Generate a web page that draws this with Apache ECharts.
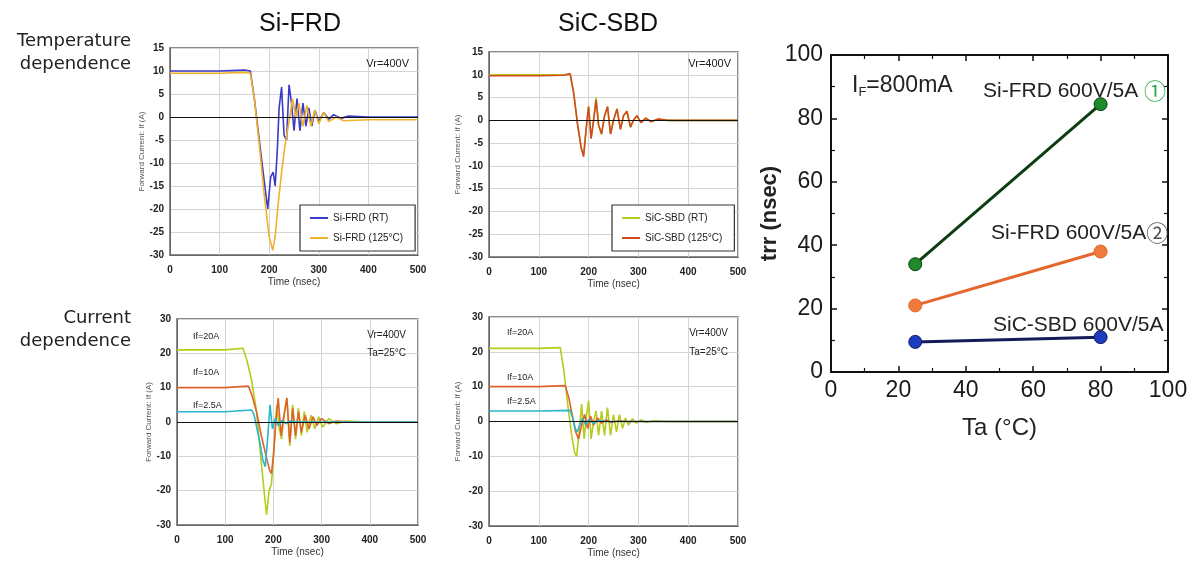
<!DOCTYPE html>
<html><head><meta charset="utf-8">
<script src="https://cdn.jsdelivr.net/npm/echarts@6/dist/echarts.min.js"></script>
<style>html,body{margin:0;padding:0;background:#fff}#c{width:1194px;height:571px}</style>
</head><body><div id="c"></div>
<script>
// ---- Panel 1: Si-FRD temperature dependence ----
const t_frdRT = [0, 50, 100, 150, 162, 170, 180, 190, 197, 203, 208, 212, 216, 220, 225, 230, 235, 240, 245, 250, 256, 262, 268, 274, 280, 286, 292, 300, 310, 320, 330, 345, 360, 400, 450, 500];
const v_frdRT = [10, 10, 10, 10.2, 10, 4, -5, -14, -20, -13, -12, -15, -8, 2, 6.5, -4, -5, 7, 3, -3, 4, -3, 3, -2, 2, -2, 1.5, -1, 1, -0.5, 0.5, -0.3, 0.2, 0, 0, 0];
const t_frdHT = [0, 50, 100, 150, 162, 170, 180, 190, 200, 207, 212, 218, 225, 232, 240, 247, 254, 260, 268, 276, 284, 292, 300, 310, 320, 335, 350, 400, 450, 500];
const v_frdHT = [9.5, 9.5, 9.5, 9.7, 9.5, 4, -6, -17, -26, -29, -26, -19, -12, -6, -1, 4, 0, 3, -2, 2.5, -2, 1.5, -1.5, 1, -1, 0, -0.8, -0.6, -0.6, -0.6];
// ---- Panel 2: SiC-SBD temperature dependence ----
const t_sbdRT = [0, 50, 100, 150, 163, 170, 178, 185, 190, 195, 200, 205, 210, 215, 220, 226, 232, 238, 244, 250, 257, 264, 270, 277, 284, 290, 297, 305, 315, 325, 340, 360, 400, 450, 500];
const v_sbdRT = [10, 10, 10, 10, 10.2, 6, -1, -6, -7.5, -2, 3, -4, 0, 5, -1, -3, 1, 3, -3, 0, 2.5, -2, 1, 2, -1.5, 0, 1, -0.5, 0.5, -0.3, 0.3, 0, 0, 0, 0];
const t_sbdHT = [0, 50, 100, 150, 163, 170, 178, 185, 190, 195, 200, 205, 210, 215, 220, 226, 232, 238, 244, 250, 257, 264, 270, 277, 284, 290, 297, 305, 315, 325, 340, 360, 400, 450, 500];
const v_sbdHT = [9.8, 9.8, 9.8, 9.9, 10.2, 6, -1, -6, -8, -2, 3, -4, 0, 4.5, -1, -3, 1, 3, -3, 0, 2.5, -2, 1, 2, -1.5, 0, 1, -0.5, 0.5, -0.3, 0.3, 0, 0, 0, 0];
// ---- Panel 3: Si-FRD current dependence ----
const t_frd20 = [0, 50, 100, 137, 145, 155, 165, 175, 182, 186, 191, 196, 201, 207, 212, 217, 222, 228, 234, 240, 246, 252, 258, 264, 270, 278, 286, 294, 302, 315, 330, 350, 400, 450, 500];
const v_frd20 = [21, 21, 21, 21.5, 18, 12, 3, -12, -22, -27, -20, -18, -8, 5, -2, -5, 2, 7, -7, 5, -5, 4, -4, 3, -3, 2, -2, 1.5, -1.5, 1, -0.5, 0.3, 0, 0, 0];
const t_frd10 = [0, 50, 100, 148, 155, 165, 175, 185, 192, 196, 200, 205, 210, 216, 222, 228, 234, 240, 246, 252, 258, 266, 274, 282, 290, 300, 315, 330, 360, 400, 450, 500];
const v_frd10 = [10, 10, 10, 10.5, 8, 3, -4, -10, -14, -15, -10, 0, 7, -4, 2, 7, -6, 4, -4, 3, -3, 2, -2, 1.5, -1, 1, -0.5, 0.3, 0, 0, 0, 0];
const t_frd25 = [0, 50, 100, 155, 160, 166, 172, 178, 183, 188, 193, 198, 204, 210, 218, 226, 235, 250, 270, 300, 400, 500];
const v_frd25 = [3, 3, 3, 3.5, 2, -2, -6, -11, -13, -5, 5, -2, 1, -1, 0.5, -0.5, 0.3, 0, 0, 0, 0, 0];
// ---- Panel 4: SiC-SBD current dependence ----
const t_sbd20 = [0, 50, 100, 143, 150, 158, 166, 172, 176, 181, 186, 191, 196, 200, 205, 210, 215, 220, 226, 232, 238, 244, 250, 256, 262, 268, 274, 280, 288, 296, 305, 315, 330, 360, 400, 450, 500];
const v_sbd20 = [21, 21, 21, 21.2, 15, 5, -4, -9, -10, -3, 5, -5, 2, 6, -5, 0, 3, -4, 3, -4, 4, -4, 2, -3, 2, -2, 1, -1, 0.8, -0.5, 0.5, -0.3, 0.2, 0, 0, 0, 0];
const t_sbd10 = [0, 50, 100, 153, 160, 167, 174, 180, 186, 192, 198, 204, 210, 218, 226, 235, 245, 260, 280, 300, 400, 500];
const v_sbd10 = [10, 10, 10, 10.3, 7, 2, -3, -5, -1, 2, -2, 1.5, -1, 1, -0.5, 0.5, -0.3, 0.2, 0, 0, 0, 0];
const t_sbd25 = [0, 50, 100, 163, 168, 173, 177, 182, 188, 194, 200, 210, 220, 235, 260, 300, 400, 500];
const v_sbd25 = [3, 3, 3, 3.2, 1, -2, -3, -1, 1, -1, 0.5, -0.5, 0.3, 0, 0, 0, 0, 0];
// ---- Right chart: trr vs Ta ----
const taValues = [25, 80];
const trrFrd1 = [34, 84.5];
const trrFrd2 = [21, 38];
const trrSbd = [9.5, 11];
const timeTicks = [0, 100, 200, 300, 400, 500];

const zip = (t, v) => t.map((x, i) => [x, v[i]]);
const FONT = 'Liberation Sans, Arial, sans-serif';
const chart = echarts.init(document.getElementById('c'), null, {renderer: 'canvas'});

const smallGrids = [
  {left: 170, top: 48, width: 248, height: 207},
  {left: 489, top: 52, width: 249, height: 205},
  {left: 177, top: 319, width: 241, height: 206},
  {left: 489, top: 317, width: 249, height: 209}
];
const grids = smallGrids.map(g => Object.assign({show: true, borderColor: '#666', borderWidth: 1.5, backgroundColor: '#fff'}, g));
grids.push({left: 831, top: 55, width: 337, height: 317, show: false});

const xAxes = [], yAxes = [];
for (let i = 0; i < 4; i++) {
  xAxes.push({
    type: 'value', gridIndex: i, min: 0, max: 500, interval: 100,
    name: 'Time (nsec)', nameLocation: 'middle', nameGap: 22,
    nameTextStyle: {fontSize: 10, color: '#333', fontFamily: FONT},
    axisLine: {show: true, onZero: false, lineStyle: {color: '#666'}},
    axisTick: {show: false},
    axisLabel: {fontSize: 10, color: '#222', fontWeight: 'bold', margin: 10, fontFamily: FONT,
      formatter: v => timeTicks.includes(v) ? String(v) : ''},
    splitLine: {show: true, lineStyle: {color: '#d4d4d4', width: 1}}
  });
  const temp = i < 2;
  yAxes.push({
    type: 'value', gridIndex: i, min: -30, max: temp ? 15 : 30, interval: temp ? 5 : 10,
    name: 'Forward Current: If (A)', nameLocation: 'middle', nameGap: i === 0 ? 20 : (i === 2 ? 24 : 27),
    nameTextStyle: {fontSize: 8, color: '#555', fontFamily: FONT},
    axisLine: {show: true, lineStyle: {color: '#666'}},
    axisTick: {show: false},
    axisLabel: {fontSize: 10, color: '#222', fontWeight: 'bold', margin: 6, fontFamily: FONT},
    splitLine: {show: true, lineStyle: {color: '#d4d4d4', width: 1}}
  });
}
// right chart axes
const tickStyle = {show: true, inside: true, length: 6, lineStyle: {color: '#111', width: 1.5}};
const minorStyle = {show: true, splitNumber: 2, length: 4, lineStyle: {color: '#111', width: 1.2}};
xAxes.push({
  type: 'value', gridIndex: 4, min: 0, max: 100, interval: 20, position: 'bottom',
  name: 'Ta (°C)', nameLocation: 'middle', nameGap: 44,
  nameTextStyle: {fontSize: 24, color: '#222', fontFamily: FONT},
  axisLine: {show: true, onZero: false, lineStyle: {color: '#111', width: 2}},
  axisTick: tickStyle, minorTick: minorStyle,
  axisLabel: {fontSize: 23, color: '#1a1a1a', margin: 7, fontFamily: FONT},
  splitLine: {show: false}
});
xAxes.push({
  type: 'value', gridIndex: 4, min: 0, max: 100, interval: 20, position: 'top',
  axisLine: {show: true, onZero: false, lineStyle: {color: '#111', width: 2}},
  axisTick: tickStyle, minorTick: minorStyle, axisLabel: {show: false}, splitLine: {show: false}
});
yAxes.push({
  type: 'value', gridIndex: 4, min: 0, max: 100, interval: 20, position: 'left',
  name: 'trr (nsec)', nameLocation: 'middle', nameGap: 40,
  nameTextStyle: {fontSize: 22, color: '#222', fontWeight: 'bold', fontFamily: FONT},
  axisLine: {show: true, onZero: false, lineStyle: {color: '#111', width: 2}},
  axisTick: tickStyle, minorTick: minorStyle,
  axisLabel: {fontSize: 23, color: '#1a1a1a', margin: 8, fontFamily: FONT},
  splitLine: {show: false}
});
yAxes.push({
  type: 'value', gridIndex: 4, min: 0, max: 100, interval: 20, position: 'right',
  axisLine: {show: true, onZero: false, lineStyle: {color: '#111', width: 2}},
  axisTick: tickStyle, minorTick: minorStyle, axisLabel: {show: false}, splitLine: {show: false}
});

const zeroLine = {silent: true, symbol: 'none', label: {show: false},
  lineStyle: {color: '#111', type: 'solid', width: 1}, data: [{yAxis: 0}]};
function wave(name, idx, t, v, color, withZero) {
  const s = {name, type: 'line', xAxisIndex: idx, yAxisIndex: idx, data: zip(t, v),
    showSymbol: false, symbol: 'none', lineStyle: {color, width: 1.6}, itemStyle: {color}, z: 3};
  if (withZero) s.markLine = zeroLine;
  return s;
}
const C = {blue: '#3a3ac8', amber: '#f2b12a', lime: '#b5cc1a', red: '#cf4a22', orange: '#e0622a', cyan: '#2bb5cc'};

const series = [
  wave('Si-FRD (RT)', 0, t_frdRT, v_frdRT, C.blue, true),
  wave('Si-FRD (125°C)', 0, t_frdHT, v_frdHT, C.amber, false),
  wave('SiC-SBD (RT)', 1, t_sbdRT, v_sbdRT, C.lime, true),
  wave('SiC-SBD (125°C)', 1, t_sbdHT, v_sbdHT, C.red, false),
  wave('If=20A Si', 2, t_frd20, v_frd20, C.lime, true),
  wave('If=10A Si', 2, t_frd10, v_frd10, C.orange, false),
  wave('If=2.5A Si', 2, t_frd25, v_frd25, C.cyan, false),
  wave('If=20A SiC', 3, t_sbd20, v_sbd20, C.lime, true),
  wave('If=10A SiC', 3, t_sbd10, v_sbd10, C.orange, false),
  wave('If=2.5A SiC', 3, t_sbd25, v_sbd25, C.cyan, false)
];
function trr(name, vals, line, dot) {
  return {name, type: 'line', xAxisIndex: 4, yAxisIndex: 4, data: zip(taValues, vals),
    symbol: 'circle', symbolSize: 13, lineStyle: {color: line, width: 3},
    itemStyle: {color: dot, borderColor: line, borderWidth: 1}, z: 5};
}
series.push(trr('Si-FRD 600V/5A ①', trrFrd1, '#0d3d12', '#1f8a2a'));
series.push(trr('Si-FRD 600V/5A ②', trrFrd2, '#e5662c', '#f07a3c'));
series.push(trr('SiC-SBD 600V/5A', trrSbd, '#141a5a', '#1d3cc0'));

const legendBase = {orient: 'vertical', backgroundColor: '#fff', borderColor: '#333', borderWidth: 1.2,
  padding: [8, 12, 8, 10], itemGap: 10, itemWidth: 18, itemHeight: 2, icon: 'rect',
  textStyle: {fontSize: 10, color: '#222', fontFamily: FONT}};

function txt(x, y, text, size, opts) {
  return Object.assign({type: 'text', x, y, z: 100,
    style: Object.assign({text, fontSize: size, fill: '#222', fontFamily: FONT, textVerticalAlign: 'middle'}, opts || {})});
}
const LBL = 'DejaVu Sans, Verdana, sans-serif';

const option = {
  animation: false,
  backgroundColor: '#fff',
  grid: grids, xAxis: xAxes, yAxis: yAxes, series,
  legend: [
    Object.assign({}, legendBase, {left: 300, top: 205, data: ['Si-FRD (RT)', 'Si-FRD (125°C)']}),
    Object.assign({}, legendBase, {left: 612, top: 205, data: ['SiC-SBD (RT)', 'SiC-SBD (125°C)']})
  ],
  graphic: [
    txt(300, 24, 'Si-FRD', 25, {textAlign: 'center', fill: '#111'}),
    txt(608, 24, 'SiC-SBD', 25, {textAlign: 'center', fill: '#111'}),
    txt(131, 41, 'Temperature', 18, {textAlign: 'right', fontFamily: LBL}),
    txt(131, 64, 'dependence', 18, {textAlign: 'right', fontFamily: LBL}),
    txt(131, 318, 'Current', 18, {textAlign: 'right', fontFamily: LBL}),
    txt(131, 341, 'dependence', 18, {textAlign: 'right', fontFamily: LBL}),
    txt(409, 64, 'Vr=400V', 11, {textAlign: 'right'}),
    txt(731, 64, 'Vr=400V', 11, {textAlign: 'right'}),
    txt(406, 335, 'Vr=400V', 10, {textAlign: 'right'}),
    txt(406, 353, 'Ta=25°C', 10, {textAlign: 'right'}),
    txt(728, 333, 'Vr=400V', 10, {textAlign: 'right'}),
    txt(728, 352, 'Ta=25°C', 10, {textAlign: 'right'}),
    txt(193, 337, 'If=20A', 9),
    txt(193, 373, 'If=10A', 9),
    txt(193, 406, 'If=2.5A', 9),
    txt(507, 333, 'If=20A', 9),
    txt(507, 378, 'If=10A', 9),
    txt(507, 402, 'If=2.5A', 9),
    {type: 'text', x: 852, y: 86, z: 100, style: {
      text: '{a|I}{s|F}{a|=800mA}', textVerticalAlign: 'middle',
      rich: {a: {fontSize: 23, fill: '#222', fontFamily: FONT}, s: {fontSize: 13, fill: '#222', fontFamily: FONT, padding: [13, 0, 0, 0]}}}},
    {type: 'text', x: 983, y: 91, z: 100, style: {
      text: '{a|Si-FRD 600V/5A }{c|①}', textVerticalAlign: 'middle',
      rich: {a: {fontSize: 21, fill: '#222', fontFamily: FONT}, c: {fontSize: 22, fill: '#2aa84a', fontFamily: 'Noto Sans CJK JP'}}}},
    {type: 'text', x: 991, y: 233, z: 100, style: {
      text: '{a|Si-FRD 600V/5A}{c|②}', textVerticalAlign: 'middle',
      rich: {a: {fontSize: 21, fill: '#222', fontFamily: FONT}, c: {fontSize: 22, fill: '#555', fontFamily: 'Noto Sans CJK JP'}}}},
    txt(993, 325, 'SiC-SBD 600V/5A', 21)
  ]
};
chart.setOption(option);
</script></body></html>
